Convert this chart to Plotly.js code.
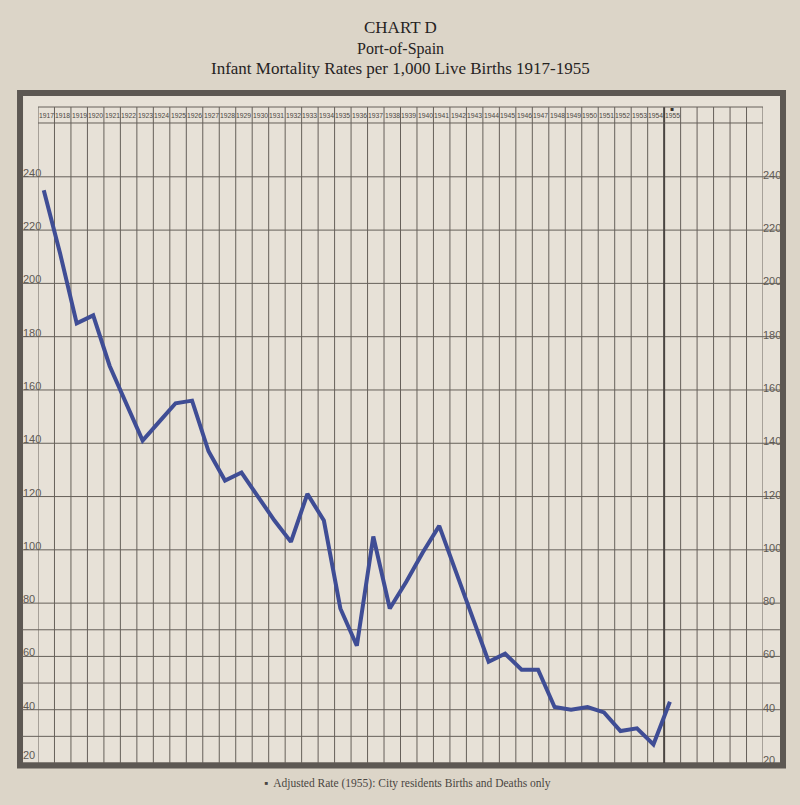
<!DOCTYPE html>
<html>
<head>
<meta charset="utf-8">
<script src="https://cdn.plot.ly/plotly-3.0.1.min.js"></script>
<style>html,body{margin:0;padding:0;background:#dcd5c8;}#chart{width:800px;height:805px;}</style>
</head>
<body>
<div id="chart"></div>
<script>
// ---- data ----
const years = [1917,1918,1919,1920,1921,1922,1923,1924,1925,1926,1927,1928,1929,1930,1931,1932,1933,1934,1935,1936,1937,1938,1939,1940,1941,1942,1943,1944,1945,1946,1947,1948,1949,1950,1951,1952,1953,1954,1955];
const rates = [235,211,185,188,169,155,141,148,155,156,137,126,129,120,111,103,121,111,78,64,105,78,88,99,109,92,75,58,61,55,55,41,40,41,39,32,33,27,43];
const yLabels = [20,40,60,80,100,120,140,160,180,200,220,240];
const gridValues = [20,30,40,50,60,70,80,100,120,140,160,180,200,220,240];
const emptyColumns = 5;
const titleLines = ["CHART D","Port-of-Spain","Infant Mortality Rates per 1,000 Live Births 1917-1955"];
const footnote = "▪  Adjusted Rate (1955): City residents Births and Deaths only";

// ---- geometry helpers (plot area 38..763 x, 107..763 y) ----
const colOffset = 0.35;
const x0 = years[0] - colOffset;
const x1 = years[years.length-1] + 1 - colOffset + emptyColumns;
const yMin = 20, yMax = 266.2;
const headerBottom = 260.2, headerMid = 263.3;
const gridColor = '#66605a';
const labelColor = '#5f5a54';

const shapes = [];
// frame
shapes.push({type:'rect', xref:'paper', yref:'paper', x0:-0.0248, x1:1.0276, y0:-0.004, y1:1.0213,
  line:{color:'#5d5853', width:6}, fillcolor:'#e7e1d7', layer:'below'});
// horizontal grid
gridValues.forEach(v => {
  shapes.push({type:'line', xref:'paper', yref:'y', x0:-0.022, x1:1.0234, y0:v, y1:v,
    line:{color:gridColor, width:1}, layer:'below'});
});
// vertical column lines
for (let k = 0; k <= years.length + emptyColumns; k++) {
  const xv = x0 + k;
  const heavy = (k === years.length - 1);
  shapes.push({type:'line', xref:'x', yref:'paper', x0:xv, x1:xv, y0:0, y1:1,
    line:{color: heavy ? '#4a4541' : gridColor, width: heavy ? 2 : 1}, layer:'below'});
}
// header lines
shapes.push({type:'line', xref:'paper', yref:'paper', x0:0, x1:1, y0:1, y1:1, line:{color:gridColor, width:1}, layer:'below'});
shapes.push({type:'line', xref:'paper', yref:'y', x0:0, x1:1, y0:headerBottom, y1:headerBottom, line:{color:gridColor, width:1}, layer:'below'});

const annotations = [];
// year labels in header
years.forEach(y => {
  annotations.push({xref:'x', yref:'y', x:y + 0.5 - colOffset, y:headerMid, text:String(y), showarrow:false,
    font:{family:'Liberation Sans, Arial, sans-serif', size:6.8, color:'#4d4844'}, xanchor:'center', yanchor:'middle', yshift:-1});
});
annotations.push({xref:'x', yref:'y', x:years[years.length-1] + 0.5 - colOffset, y:headerMid, text:'▪', showarrow:false,
  font:{family:'DejaVu Sans, sans-serif', size:6, color:'#3a3632'}, yshift:6});
// y labels both sides
yLabels.forEach(v => {
  annotations.push({xref:'paper', yref:'y', x:-0.024, y:v, text:String(v), showarrow:false, xanchor:'left', yanchor:'middle', yshift: v === 20 ? 8 : 4,
    font:{family:'Liberation Sans, Arial, sans-serif', size:11, color:labelColor}});
  annotations.push({xref:'paper', yref:'y', x:0.997, y:v, text:String(v), showarrow:false, xanchor:'left', yanchor:'middle', yshift: v === 20 ? 3 : 2,
    font:{family:'Liberation Sans, Arial, sans-serif', size:11, color:labelColor}});
});
// title lines
const titleY = [1.1205, 1.0885, 1.058];
const titleSizes = [17, 16, 17];
titleLines.forEach((t,i) => {
  annotations.push({xref:'paper', yref:'paper', x:0.5, y:titleY[i], text:t, showarrow:false, xanchor:'center', yanchor:'middle',
    font:{family:'Liberation Serif, Times New Roman, serif', size:titleSizes[i], color:'#26231f', weight:500}});
});
// footnote
annotations.push({xref:'paper', yref:'paper', x:0.51, y:-0.031, text:footnote, showarrow:false, xanchor:'center', yanchor:'middle',
  font:{family:'Liberation Serif, Times New Roman, serif', size:11.5, color:'#4a4642'}});

const trace = {
  x: years, y: rates, type:'scatter', mode:'lines',
  line:{color:'#3f4d95', width:4, shape:'linear'},
  cliponaxis:false, hoverinfo:'x+y'
};

const layout = {
  width:800, height:805,
  margin:{l:38, r:37, t:107, b:42},
  paper_bgcolor:'#dcd5c8',
  plot_bgcolor:'rgba(0,0,0,0)',
  showlegend:false,
  xaxis:{range:[x0, x1], showgrid:false, zeroline:false, showticklabels:false, ticks:'', showline:false, fixedrange:true},
  yaxis:{range:[yMin, yMax], showgrid:false, zeroline:false, showticklabels:false, ticks:'', showline:false, fixedrange:true},
  shapes: shapes,
  annotations: annotations
};

Plotly.newPlot('chart', [trace], layout, {displayModeBar:false, staticPlot:true});
</script>
</body>
</html>
